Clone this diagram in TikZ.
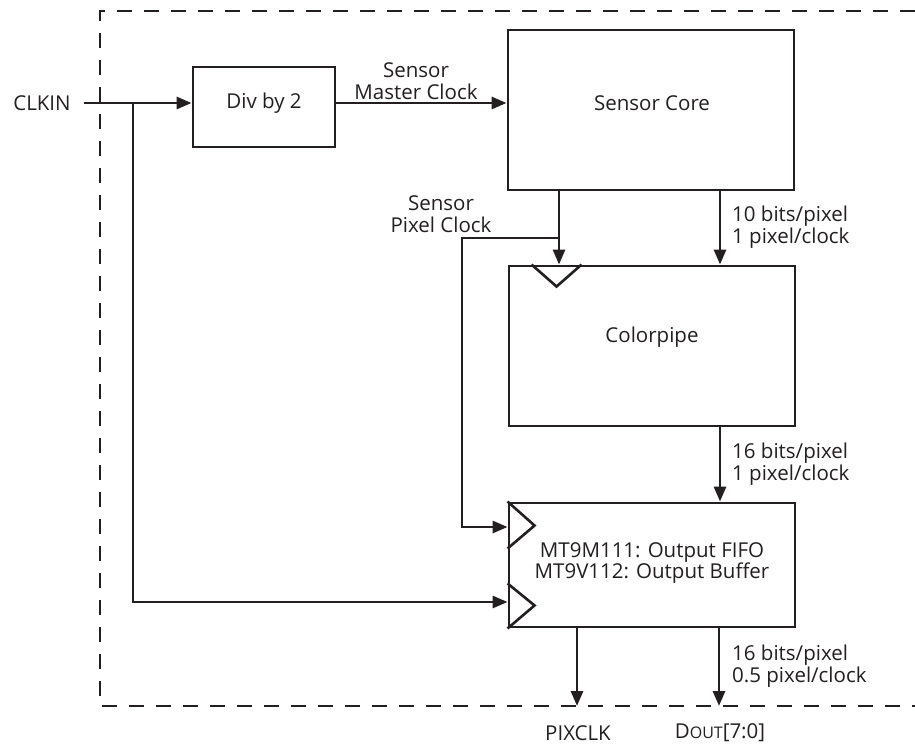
\documentclass[tikz,border=0pt]{standalone}
\usepackage{fontspec}
\setmainfont{Open Sans}
\usetikzlibrary{arrows.meta,calc}
\definecolor{ink}{HTML}{231F20}
\tikzset{
  box/.style={draw=ink, line width=2.9pt, rectangle, inner sep=0pt},
  txt/.style={text=ink, inner sep=0pt, font=\fontsize{20.5}{21.5}\selectfont},
  wire/.style={draw=ink, line width=2.9pt},
  arr/.style={wire, -{Triangle[length=15pt,width=12pt]}},
  clk/.style={draw=ink, line width=2.6pt, line join=miter},
  border/.style={draw=ink, line width=2.8pt, dash pattern=on 15pt off 12pt}
}
\begin{document}
\begin{tikzpicture}[x=1pt,y=-1pt]
\useasboundingbox (0,0) rectangle (915,746);
% dashed boundary
\draw[border] (915,11) -- (100,11) -- (100,706) -- (915,706);
% boxes
\node[box, minimum width=142pt, minimum height=80pt] (div) at (264,107) {};
\node[txt] (divT) at (264,103) {Div by 2};
\node[box, minimum width=286pt, minimum height=160pt] (core) at (651,110) {};
\node[txt] (coreT) at (652,103) {Sensor Core};
\node[box, minimum width=286pt, minimum height=160pt] (color) at (652,346) {};
\node[txt] (colorT) at (652,337) {Colorpipe};
\node[box, minimum width=286pt, minimum height=124pt] (out) at (652,565) {};
\node[txt, align=center] (outT) at (652,563) {MT9M111: Output FIFO\\MT9V112: Output Buffer};
% clock markers
\draw[clk] ($(color.north west)+(24,0)$) -- ($(color.north west)+(49,22)$) -- ($(color.north west)+(74,0)$);
\draw[clk] ($(out.north west)+(0,0)$) -- ($(out.north west)+(27,24)$) -- ($(out.north west)+(0,47)$);
\draw[clk] ($(out.south west)+(0,-45)$) -- ($(out.south west)+(27,-23)$) -- ($(out.south west)+(0,0)$);
% inputs
\node[txt] (clkin) at (42,103) {CLKIN};
\coordinate (c0) at (84,103);
\coordinate (br) at (133,103);
\draw[arr] (c0) -- (c0 -| div.west);
\coordinate (lowy) at (0,602);
\draw[arr] (br) |- (out.west |- lowy);
% master clock
\draw[arr] (div.east |- c0) -- (core.west |- c0);
\node[txt, align=center] (mclk) at (416,81) {Sensor\\Master Clock};
% pixel clock
\coordinate (pcx) at (559,238);
\coordinate (pcl) at (462,238);
\coordinate (upy) at (0,527);
\draw[arr] (pcx |- core.south) -- (pcx |- color.north);
\draw[arr] (pcx) -- (pcl) |- (out.west |- upy);
\node[txt, align=center] (pclk) at (441,214) {Sensor\\Pixel Clock};
% data paths
\coordinate (dx) at (720,0);
\draw[arr] (dx |- core.south) -- (dx |- color.north);
\node[txt, align=left, anchor=west] (d1) at (732,227) {10 bits/pixel\\1 pixel/clock};
\draw[arr] (dx |- color.south) -- (dx |- out.north);
\node[txt, align=left, anchor=west] (d2) at (732,464) {16 bits/pixel\\1 pixel/clock};
% outputs
\coordinate (bot) at (0,706);
\coordinate (px) at (577,0);
\coordinate (ox) at (719,0);
\draw[arr] (px |- out.south) -- (px |- bot);
\draw[arr] (ox |- out.south) -- (ox |- bot);
\node[txt, align=left, anchor=west] (d3) at (732,666) {16 bits/pixel\\0.5 pixel/clock};
\node[txt] (pixclk) at (578,733) {PIXCLK};
\node[txt] (dout) at (720,733) {D{\fontsize{16}{16}\selectfont OUT}[7:0]};
\end{tikzpicture}
\end{document}
